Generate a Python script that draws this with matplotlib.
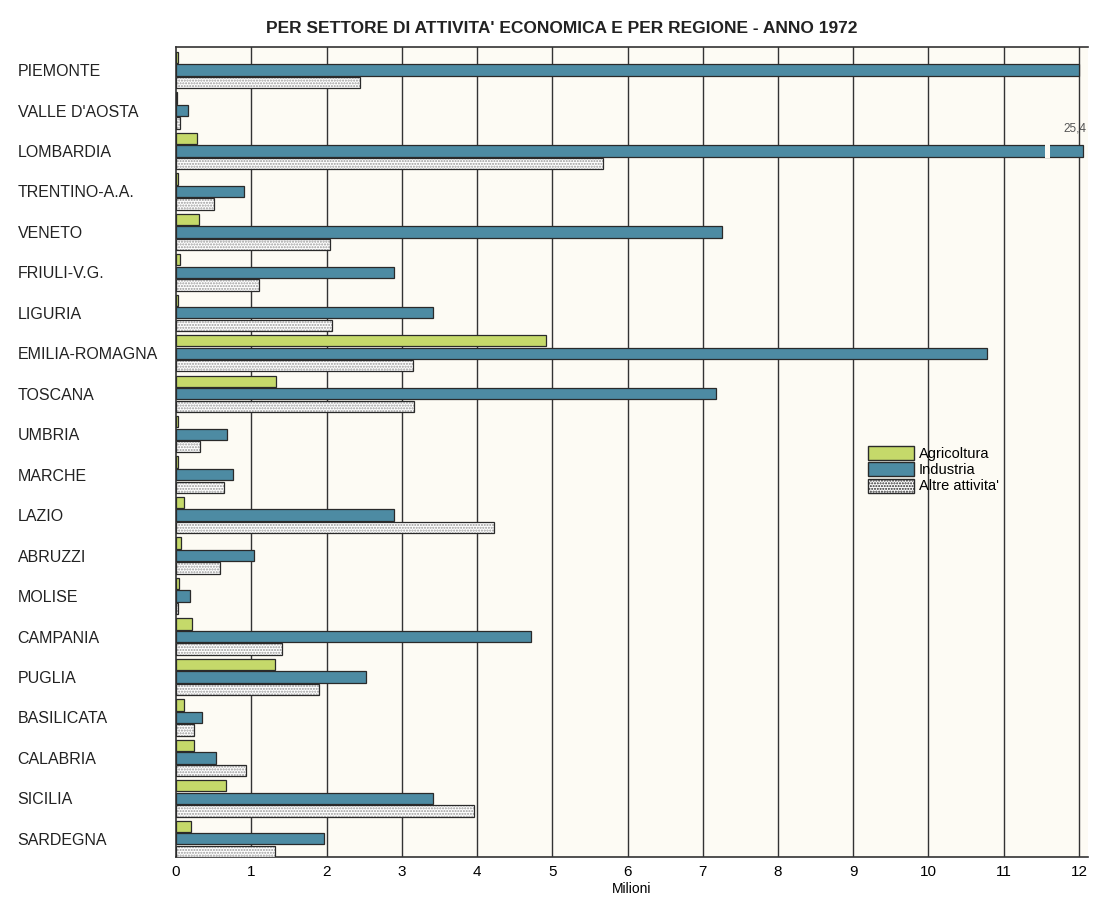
import matplotlib.pyplot as plt
import numpy as np
from matplotlib.patches import Patch

plt.rcParams["font.family"] = ["Liberation Sans", "DejaVu Sans"]

regions = ["PIEMONTE", "VALLE D'AOSTA", "LOMBARDIA", "TRENTINO-A.A.", "VENETO",
           "FRIULI-V.G.", "LIGURIA", "EMILIA-ROMAGNA", "TOSCANA", "UMBRIA",
           "MARCHE", "LAZIO", "ABRUZZI", "MOLISE", "CAMPANIA", "PUGLIA",
           "BASILICATA", "CALABRIA", "SICILIA", "SARDEGNA"]

agricoltura = [0.02, 0.01, 0.28, 0.02, 0.30, 0.05, 0.02, 4.92, 1.33, 0.03,
               0.03, 0.10, 0.07, 0.04, 0.21, 1.32, 0.10, 0.24, 0.66, 0.20]
industria = [12.0, 0.16, 25.4, 0.90, 7.26, 2.90, 3.42, 10.78, 7.18, 0.68,
             0.76, 2.90, 1.03, 0.18, 4.72, 2.52, 0.35, 0.53, 3.41, 1.97]
altre = [2.45, 0.05, 5.68, 0.50, 2.05, 1.10, 2.07, 3.15, 3.16, 0.32,
         0.64, 4.22, 0.58, 0.02, 1.41, 1.90, 0.24, 0.93, 3.96, 1.32]

xticks = list(range(0, 13))
XMAX = 12.05          # where the broken bar is cut
BREAK_AT = 11.55      # position of the break mark on the long bar

C_AGRI = "#c5d96a"
C_IND = "#4d8ba3"
C_EDGE = "#2a2a2a"
BG = "#fdfbf4"

fig = plt.figure(figsize=(11.01, 9.07), dpi=100)
ax = fig.add_axes([0.1599, 0.0551, 0.8283, 0.8931])
ax.set_facecolor(BG)

y = np.arange(len(regions))
h = 0.28
off = 0.31

ind_plot = [min(v, XMAX) for v in industria]

ax.barh(y - off, agricoltura, height=h, color=C_AGRI, edgecolor=C_EDGE,
        linewidth=0.9, zorder=3)
ax.barh(y, ind_plot, height=h, color=C_IND, edgecolor=C_EDGE,
        linewidth=0.9, zorder=3)
# dotted fill for "Altre attivita'" drawn first, outline on top
ax.barh(y + off, altre, height=h, color="white", edgecolor="#9a9a9a",
        hatch="......", linewidth=0, zorder=3)
ax.barh(y + off, altre, height=h, color="none", edgecolor=C_EDGE,
        linewidth=0.9, zorder=4)

# break on the out-of-scale bar
for i, v in enumerate(industria):
    if v > XMAX:
        ax.barh(y[i], 0.07, left=BREAK_AT, height=h + 0.08, color=BG,
                edgecolor="none", zorder=5)
        ax.text(XMAX - 0.1, y[i] - 0.40, f"{v:.1f}".replace(".", ","),
                fontsize=8.5, color="#555555", ha="center", va="bottom", zorder=6)

ax.set_xlim(0, 12.12)
ax.set_ylim(len(regions) - 1 + 0.45, -0.57)
ax.set_xticks(xticks)
ax.set_xticklabels([str(t) for t in xticks], fontsize=11)
ax.set_yticks(y)
ax.set_yticklabels(regions, fontsize=11.5, ha="left", color="#222222")
ax.tick_params(axis="y", length=0, pad=114)
ax.tick_params(axis="x", length=0, pad=6)

for t in xticks[1:]:
    ax.axvline(t, color="#333333", linewidth=1.0, zorder=1)

for side in ["left", "top", "bottom"]:
    ax.spines[side].set_color("#333333")
    ax.spines[side].set_linewidth(1.2)
ax.spines["right"].set_visible(False)

ax.set_xlabel("Milioni", fontsize=10, labelpad=2)
fig.text(0.51, 0.969, "PER SETTORE DI ATTIVITA' ECONOMICA E PER REGIONE - ANNO 1972",
         ha="center", va="center", fontsize=12.5, fontweight="bold", color="#222222")

handles = [
    Patch(facecolor=C_AGRI, edgecolor=C_EDGE, label="Agricoltura"),
    Patch(facecolor=C_IND, edgecolor=C_EDGE, label="Industria"),
    Patch(facecolor="white", edgecolor=C_EDGE, hatch="......", label="Altre attivita'"),
]
ax.legend(handles=handles, loc="upper left", bbox_to_anchor=(0.752, 0.515),
          frameon=False, fontsize=10.5, handlelength=3.2, handleheight=1.1,
          handletextpad=0.3, labelspacing=0.1, borderaxespad=0)

fig.savefig("out.png", dpi=100, facecolor="white")
